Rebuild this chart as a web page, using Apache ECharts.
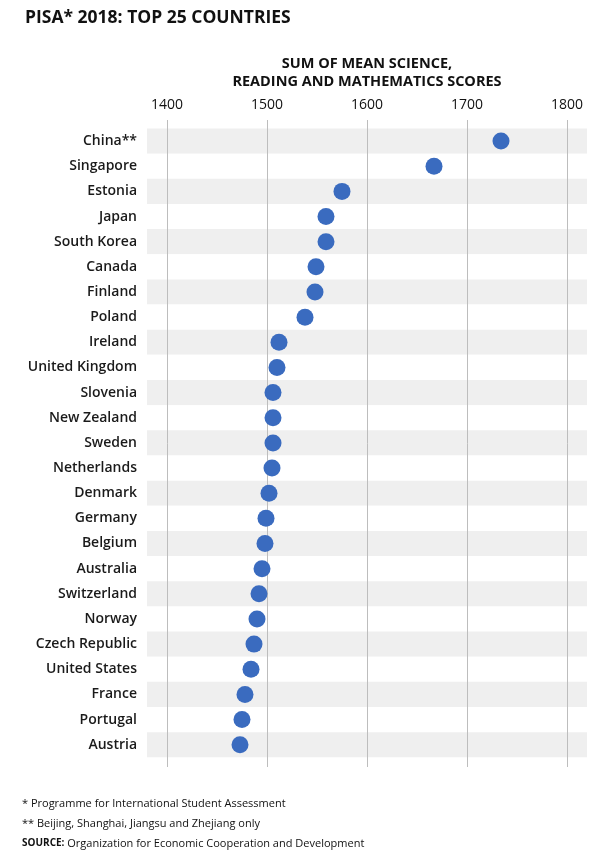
<!DOCTYPE html>
<html>
<head>
<meta charset="utf-8">
<script src="https://cdn.jsdelivr.net/npm/echarts@6/dist/echarts.min.js"></script>
<style>
html,body{margin:0;padding:0;background:#fff;}
#chart{width:598px;height:857px;}
</style>
</head>
<body>
<div id="chart"></div>
<script>
const countries = ["China**","Singapore","Estonia","Japan","South Korea","Canada","Finland","Poland","Ireland","United Kingdom","Slovenia","New Zealand","Sweden","Netherlands","Denmark","Germany","Belgium","Australia","Switzerland","Norway","Czech Republic","United States","France","Portugal","Austria"];
const scores = [1734,1667,1575,1559,1559,1549,1548,1538,1512,1510,1506,1506,1506,1505,1502,1499,1498,1495,1492,1490,1487,1484,1478,1475,1473];
const tickValues = [1400,1500,1600,1700,1800];

const FONT = '"Open Sans", "Noto Sans", sans-serif';
const chart = echarts.init(document.getElementById('chart'), null, {renderer:'canvas'});
chart.setOption({
  animation:false,
  backgroundColor:'#fff',
  title:{
    text:'PISA* 2018: TOP 25 COUNTRIES',
    left:20, top:4,
    textStyle:{fontFamily:FONT,fontSize:17.5,fontWeight:'bold',color:'#111'}
  },
  grid:[
    {left:147,right:11,top:128.5,bottom:99.7},
    {left:167,right:31,top:120,bottom:90}
  ],
  xAxis:[
    {gridIndex:0,type:'value',min:1380,max:1820,show:false},
    {gridIndex:1,type:'value',position:'top',min:tickValues[0],max:tickValues[tickValues.length-1],interval:100,z:1,
     name:'SUM OF MEAN SCIENCE,\nREADING AND MATHEMATICS SCORES',
     nameLocation:'middle',nameGap:29.5,
     nameTextStyle:{fontFamily:FONT,fontSize:14.5,fontWeight:'bold',color:'#111',lineHeight:18},
     axisLine:{show:false},axisTick:{show:false},
     axisLabel:{margin:8,fontFamily:FONT,fontSize:14,color:'#111',formatter:function(v){return String(v);}},
     splitLine:{show:true,lineStyle:{color:'#bdbdbd',width:1}}
    }
  ],
  yAxis:[
    {gridIndex:0,type:'category',data:countries,inverse:true,z:0,
     axisLine:{show:false},axisTick:{show:false},
     axisLabel:{margin:10,fontFamily:FONT,fontSize:14,fontWeight:600,color:'#1a1a1a'},
     splitLine:{show:false},
     splitArea:{show:true,areaStyle:{color:['#efefef','#ffffff']}}
    },
    {gridIndex:1,type:'value',show:false}
  ],
  series:[{
    type:'scatter',xAxisIndex:0,yAxisIndex:0,z:5,
    data:scores,
    symbolSize:17,
    itemStyle:{color:'#3a6bbf',opacity:1}
  }],
  graphic:[
    {type:'text',left:22,top:798,style:{text:'* Programme for International Student Assessment',font:'11px '+FONT,fill:'#111'}},
    {type:'text',left:22,top:818,style:{text:'** Beijing, Shanghai, Jiangsu and Zhejiang only',font:'11px '+FONT,fill:'#111'}},
    {type:'text',left:22,top:838,style:{
      text:'{b|SOURCE:} Organization for Economic Cooperation and Development',
      font:'11px '+FONT,fill:'#111',
      rich:{b:{fontFamily:FONT,fontSize:10,fontWeight:'bold',fill:'#111'}}
    }}
  ]
});
</script>
</body>
</html>
